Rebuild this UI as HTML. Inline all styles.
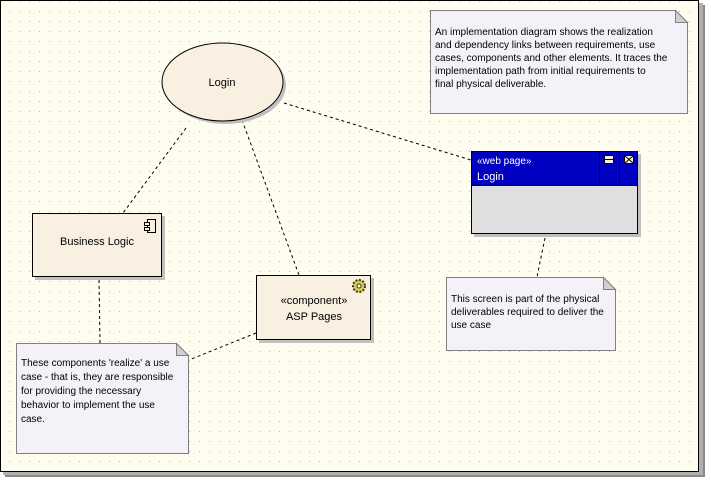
<!DOCTYPE html>
<html><head><meta charset="utf-8"><style>
html,body{margin:0;padding:0;background:#fff;}
svg{display:block;}
text{font-family:"Liberation Sans",sans-serif;font-size:11px;fill:#000;}
text.n{font-size:10px;}
</style></head><body>
<svg width="711" height="483" viewBox="0 0 711 483" xmlns="http://www.w3.org/2000/svg">
<defs>
<pattern id="dots" x="9" y="1" width="10" height="10" patternUnits="userSpaceOnUse">
<rect x="0" y="0" width="1" height="1" fill="#b8b8b0"/>
</pattern>
</defs>
<rect x="5" y="5" width="700" height="472" fill="#8a8a8a"/>
<rect x="3" y="3" width="700" height="472" fill="#b0b0b0"/>
<rect x="0" y="0" width="699" height="472" fill="#000"/>
<rect x="1" y="1" width="697" height="470" fill="#fffcf0"/>
<rect x="1" y="1" width="697" height="470" fill="url(#dots)"/>

<g stroke="#000" stroke-width="1" stroke-dasharray="3,3" fill="none">
<line x1="186" y1="128" x2="123" y2="213"/>
<line x1="242" y1="120" x2="299" y2="275"/>
<line x1="284" y1="103" x2="471" y2="160"/>
<line x1="99" y1="280" x2="100" y2="343"/>
<line x1="256" y1="333" x2="189" y2="360"/>
<line x1="545" y1="238" x2="537" y2="277"/>
</g>

<ellipse cx="225.5" cy="85" rx="60.5" ry="39" fill="#c0c0c0"/>
<ellipse cx="222.5" cy="82" rx="60.5" ry="39" fill="#faf0e2" stroke="#000"/>
<text x="222" y="86" text-anchor="middle">Login</text>

<rect x="35" y="216" width="130" height="64" fill="#c0c0c0"/>
<rect x="32.5" y="213.5" width="129" height="63" fill="#faf0e2" stroke="#000"/>
<text x="97" y="245" text-anchor="middle">Business Logic</text>
<g fill="#faf0e2" stroke="#000">
<rect x="147.5" y="219.5" width="8" height="13"/>
<rect x="144.5" y="222.5" width="5" height="3"/>
<rect x="144.5" y="227.5" width="5" height="3"/>
</g>

<rect x="259" y="278" width="115" height="65" fill="#c0c0c0"/>
<rect x="256.5" y="275.5" width="114" height="64" fill="#faf0e2" stroke="#000"/>
<text x="314" y="304" text-anchor="middle">«component»</text>
<text x="314" y="320" text-anchor="middle">ASP Pages</text>
<circle cx="359" cy="286" r="6" fill="#d8c860" stroke="#403800" stroke-dasharray="2,1.5" stroke-width="2"/>
<circle cx="359" cy="286" r="2" fill="#fff" stroke="#403800"/>

<rect x="474" y="154" width="167" height="83" fill="#c0c0c0"/>
<rect x="471.5" y="151.5" width="166" height="82" fill="#e0e0e0" stroke="#000"/>
<rect x="472" y="152" width="165" height="33" fill="#0000c0"/>
<line x1="471" y1="185.5" x2="638" y2="185.5" stroke="#000"/>
<line x1="599.5" y1="152" x2="599.5" y2="185" stroke="#000"/>
<line x1="619.5" y1="152" x2="619.5" y2="185" stroke="#000"/>
<rect x="604.5" y="155.5" width="9" height="8" fill="#faf0e2" stroke="#000"/>
<line x1="604" y1="159.5" x2="614" y2="159.5" stroke="#000"/>
<rect x="624.5" y="155.5" width="9" height="8" fill="#faf0e2" stroke="#000"/>
<path d="M625 156 L633 163 M633 156 L625 163" stroke="#000"/>
<text x="477" y="164" style="fill:#fff;font-size:10px">«web page»</text>
<text x="477" y="180" style="fill:#fff">Login</text>

<g fill="#f4f2f8" stroke="#808080">
<path d="M430.5 10.5 H675.5 L687.5 22.5 V113.5 H430.5 Z"/>
<path d="M446.5 277.5 H603.5 L615.5 289.5 V350.5 H446.5 Z"/>
<path d="M16.5 343.5 H176.5 L188.5 355.5 V453.5 H16.5 Z"/>
</g>
<g fill="#d0d0d0" stroke="#808080">
<path d="M675.5 10.5 V22.5 H687.5 Z"/>
<path d="M603.5 277.5 V289.5 H615.5 Z"/>
<path d="M176.5 343.5 V355.5 H188.5 Z"/>
</g>
<text class="n" x="435" y="35">An implementation diagram shows the realization</text>
<text class="n" x="435" y="48">and dependency links between requirements, use</text>
<text class="n" x="435" y="61">cases, components and other elements. It traces the</text>
<text class="n" x="435" y="74">implementation path from initial requirements to</text>
<text class="n" x="435" y="87">final physical deliverable.</text>

<text class="n" x="451" y="302">This screen is part of the physical</text>
<text class="n" x="451" y="315">deliverables required to deliver the</text>
<text class="n" x="451" y="328">use case</text>

<text class="n" x="21" y="366">These components 'realize' a use</text>
<text class="n" x="21" y="380">case - that is, they are responsible</text>
<text class="n" x="21" y="394">for providing the necessary</text>
<text class="n" x="21" y="408">behavior to implement the use</text>
<text class="n" x="21" y="422">case.</text>
</svg>
</body></html>
